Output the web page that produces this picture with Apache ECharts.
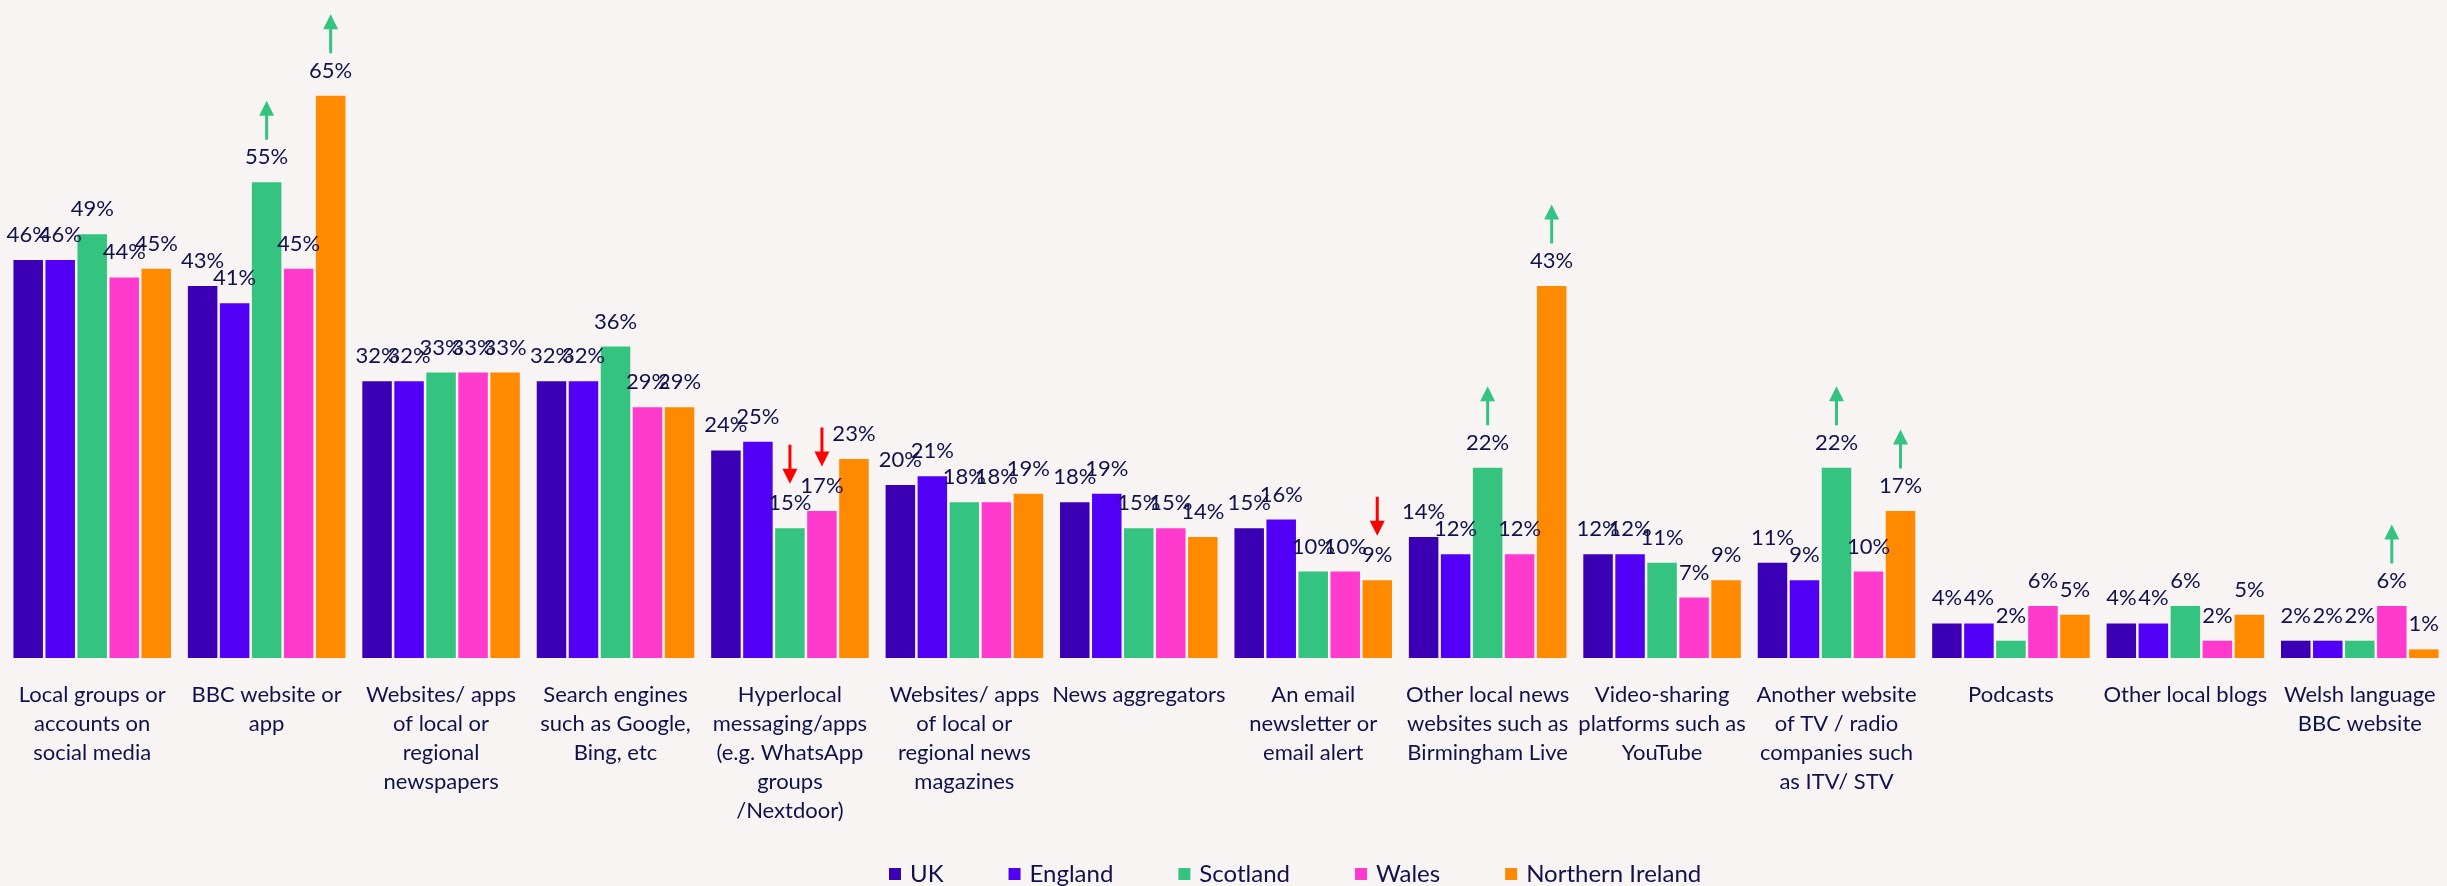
<!DOCTYPE html>
<html>
<head>
<meta charset="utf-8">
<script src="https://cdn.jsdelivr.net/npm/echarts@6/dist/echarts.min.js"></script>
<style>
  html, body { margin: 0; padding: 0; background: #f8f4f4; }
  #chart { width: 2447px; height: 886px; }
</style>
</head>
<body>
<div id="chart"></div>
<script>
// categories (x axis)
var categories = [
  'Local groups or\naccounts on\nsocial media',
  'BBC website or\napp',
  'Websites/ apps\nof local or\nregional\nnewspapers',
  'Search engines\nsuch as Google,\nBing, etc',
  'Hyperlocal\nmessaging/apps\n(e.g. WhatsApp\ngroups\n/Nextdoor)',
  'Websites/ apps\nof local or\nregional news\nmagazines',
  'News aggregators',
  'An email\nnewsletter or\nemail alert',
  'Other local news\nwebsites such as\nBirmingham Live',
  'Video-sharing\nplatforms such as\nYouTube',
  'Another website\nof TV / radio\ncompanies such\nas ITV/ STV',
  'Podcasts',
  'Other local blogs',
  'Welsh language\nBBC website'
]

// % per nation
var ukValues = [46, 43, 32, 32, 24, 20, 18, 15, 14, 12, 11, 4, 4, 2]
var englandValues = [46, 41, 32, 32, 25, 21, 19, 16, 12, 12, 9, 4, 4, 2]
var scotlandValues = [49, 55, 33, 36, 15, 18, 15, 10, 22, 11, 22, 2, 6, 2]
var walesValues = [44, 45, 33, 29, 17, 18, 15, 10, 12, 7, 10, 6, 2, 6]
var niValues = [45, 65, 33, 29, 23, 19, 14, 9, 43, 9, 17, 5, 5, 1]

// significant differences: [series name, category index]
var upArrows = [['Scotland', 1], ['Northern Ireland', 1], ['Scotland', 8], ['Northern Ireland', 8],
  ['Scotland', 10], ['Northern Ireland', 10], ['Wales', 13]]
var downArrows = [['Scotland', 4], ['Wales', 4], ['Northern Ireland', 7]]

var textColor = '#12124a'
var font = 'Lato, "Open Sans", sans-serif'
var upPath = 'path://M7.5,0 L15,15 L9,15 L9,39 L6,39 L6,15 L0,15 Z'
var downPath = 'path://M6,0 L9,0 L9,24 L15,24 L7.5,39 L0,24 L6,24 Z'

function arrowMarks(name, values) {
  var list = []
  upArrows.forEach(function (a) {
    if (a[0] === name) {
      list.push({ coord: [a[1], values[a[1]]], symbol: upPath, symbolSize: [15, 39],
        symbolOffset: [0, -62], itemStyle: { color: '#35c47f' } })
    }
  })
  downArrows.forEach(function (a) {
    if (a[0] === name) {
      list.push({ coord: [a[1], values[a[1]]], symbol: downPath, symbolSize: [15, 39],
        symbolOffset: [0, -64], itemStyle: { color: '#ff0000' } })
    }
  })
  return list
}

function makeSeries(name, values, color) {
  return {
    name: name,
    type: 'bar',
    data: values,
    barWidth: 29.5,
    barGap: '8.5%',
    itemStyle: { color: color },
    label: {
      show: true,
      position: 'top',
      distance: 14,
      formatter: '{c}%',
      color: textColor,
      fontFamily: font,
      fontSize: 22
    },
    markPoint: {
      silent: true,
      label: { show: false },
      data: arrowMarks(name, values)
    }
  }
}

var myChart = echarts.init(document.getElementById('chart'))
var option = {
  backgroundColor: '#f8f4f4',
  animation: false,
  grid: { left: 5, width: 2446, top: 52.5, bottom: 228 },
  legend: {
    left: 884,
    top: 857,
    itemWidth: 12,
    itemHeight: 12,
    itemGap: 65,
    icon: 'rect',
    textStyle: { color: textColor, fontFamily: font, fontSize: 24, padding: [0, 0, 0, 4] },
    data: ['UK', 'England', 'Scotland', 'Wales', 'Northern Ireland']
  },
  xAxis: {
    type: 'category',
    data: categories,
    axisLine: { show: false },
    axisTick: { show: false },
    axisLabel: {
      interval: 0,
      margin: 22,
      color: textColor,
      fontFamily: font,
      fontSize: 22,
      lineHeight: 29
    }
  },
  yAxis: {
    type: 'value',
    min: 0,
    max: 70,
    show: false,
    splitLine: { show: false }
  },
  series: [
    makeSeries('UK', ukValues, '#3b00b4'),
    makeSeries('England', englandValues, '#5200f5'),
    makeSeries('Scotland', scotlandValues, '#35c47f'),
    makeSeries('Wales', walesValues, '#ff3acd'),
    makeSeries('Northern Ireland', niValues, '#ff8a00')
  ]
}
myChart.setOption(option)
</script>
</body>
</html>
